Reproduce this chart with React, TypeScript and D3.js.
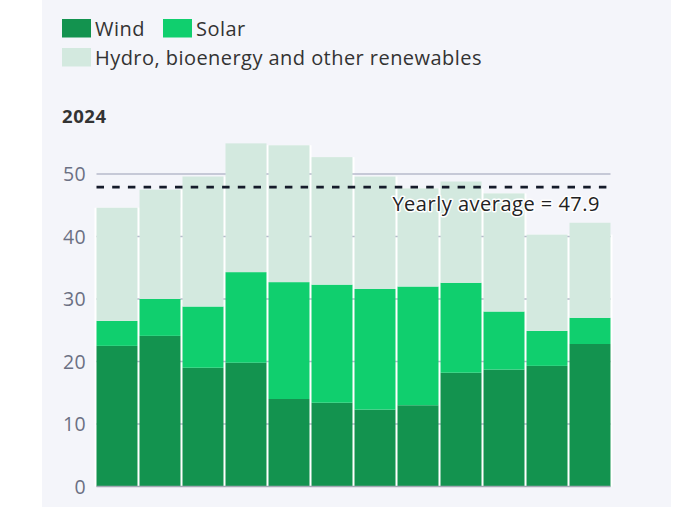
import React, { useEffect, useRef } from "react";
import * as d3 from "d3";

// monthly share of renewables, 2024 (%)
const months = ["Jan", "Feb", "Mar", "Apr", "May", "Jun", "Jul", "Aug", "Sep", "Oct", "Nov", "Dec"];
const wind = [22.5, 24.1, 19.0, 19.8, 14.0, 13.4, 12.3, 13.0, 18.2, 18.7, 19.3, 22.8];
const solar = [4.0, 5.9, 9.8, 14.5, 18.7, 18.9, 19.3, 19.0, 14.4, 9.3, 5.6, 4.2];
const other = [18.1, 17.5, 20.8, 20.6, 21.9, 20.4, 18.0, 15.7, 16.2, 18.9, 15.4, 15.2];
const yTicks = [0, 10, 20, 30, 40, 50];
const yearlyAverage = 47.9;

const seriesKeys = ["wind", "solar", "other"];
const seriesLabels = ["Wind", "Solar", "Hydro, bioenergy and other renewables"];
const colors = ["#13934f", "#10cf6e", "#d3e9df"];

const FONT = "'Open Sans', 'Noto Sans', sans-serif";

function App() {
    const ref = useRef<SVGSVGElement>(null);

    useEffect(() => {
        const svg = d3.select(ref.current);
        svg.selectAll("*").remove();

        const width = 700, height = 508;

        // panel background
        svg.append("rect").attr("x", 42).attr("y", 0).attr("width", 629).attr("height", 507).attr("fill", "#f4f5fa");

        const x = d3.scaleBand().domain(months).range([96.5, 610.5]).paddingInner(0.047).paddingOuter(0);
        const y = d3.scaleLinear().domain([0, 50]).range([486.5, 174]);

        const rows = months.map((m, i) => ({ month: m, wind: wind[i], solar: solar[i], other: other[i] }));
        const stacked = d3.stack<any>().keys(seriesKeys)(rows);

        // legend
        const legend = svg.append("g").attr("font-family", FONT).attr("font-size", 20)
            .attr("letter-spacing", 0.45).attr("fill", "#333");
        const legendPos = [
            { x: 62, y: 19 },
            { x: 163, y: 19 },
            { x: 62, y: 48 },
        ];
        seriesLabels.forEach((label, i) => {
            const p = legendPos[i];
            legend.append("rect").attr("x", p.x).attr("y", p.y).attr("width", 29).attr("height", 18.5).attr("fill", colors[i]);
            legend.append("text").attr("x", p.x + 33).attr("y", p.y + 16.5).text(label);
        });

        svg.append("text")
            .attr("x", 62).attr("y", 123)
            .attr("font-family", FONT).attr("font-weight", 700).attr("font-size", 18.5)
            .attr("letter-spacing", 0.6)
            .attr("fill", "#333")
            .text("2024");

        // white under-bars so the gaps read as white strips
        const totals = months.map((_, i) => wind[i] + solar[i] + other[i]);
        const step = x.step();
        svg.append("g").selectAll("rect").data(months).join("rect")
            .attr("x", (d) => (x(d) as number) - (step - x.bandwidth()))
            .attr("width", step + (step - x.bandwidth()))
            .attr("y", (_, i) => y(Math.min(totals[i], totals[Math.max(0, i - 1)])))
            .attr("height", (_, i) => y(0) - y(Math.min(totals[i], totals[Math.max(0, i - 1)])))
            .attr("fill", "#ffffff");

        // gridlines
        svg.append("g").selectAll("line").data(yTicks.filter((t) => t > 0)).join("line")
            .attr("x1", 96.5).attr("x2", 610.5)
            .attr("y1", (d) => y(d)).attr("y2", (d) => y(d))
            .attr("stroke", "#b7bacb").attr("stroke-width", 1.5);

        // bars
        svg.append("g").selectAll("g").data(stacked).join("g")
            .attr("fill", (_, i) => colors[i])
            .selectAll("rect").data((d) => d).join("rect")
            .attr("x", (d: any) => x(d.data.month) as number)
            .attr("width", x.bandwidth())
            .attr("y", (d: any) => y(d[1]))
            .attr("height", (d: any) => y(d[0]) - y(d[1]));

        // baseline
        svg.append("line")
            .attr("x1", 96.5).attr("x2", 610.5).attr("y1", y(0)).attr("y2", y(0))
            .attr("stroke", "#a3a8b4").attr("stroke-width", 1.5);

        // y labels
        svg.append("g").selectAll("text").data(yTicks).join("text")
            .attr("x", 86).attr("y", (d) => y(d))
            .attr("dy", "0.36em")
            .attr("text-anchor", "end")
            .attr("font-family", FONT).attr("font-size", 19.5)
            .attr("letter-spacing", 0.3)
            .attr("fill", "#6b7083")
            .text((d) => d);

        // yearly average
        svg.append("line")
            .attr("x1", 96.5).attr("x2", 612).attr("y1", y(yearlyAverage)).attr("y2", y(yearlyAverage))
            .attr("stroke", "#151b2a").attr("stroke-width", 2.8)
            .attr("stroke-dasharray", "7.5 8.2");

        svg.append("text")
            .attr("x", 600).attr("y", y(yearlyAverage) + 23.5)
            .attr("text-anchor", "end")
            .attr("font-family", FONT).attr("font-size", 20)
            .attr("letter-spacing", 0.5)
            .attr("fill", "#222")
            .attr("stroke", "#ffffff").attr("stroke-width", 3).attr("paint-order", "stroke")
            .attr("stroke-linejoin", "round")
            .text(`Yearly average = ${yearlyAverage}`);

        svg.attr("width", width).attr("height", height);
    }, []);

    return (
        <div style={{ position: "absolute", left: 0, top: 0, background: "#fff" }}>
            <svg ref={ref} width={700} height={508} style={{ display: "block" }} />
        </div>
    );
}

export default App;
